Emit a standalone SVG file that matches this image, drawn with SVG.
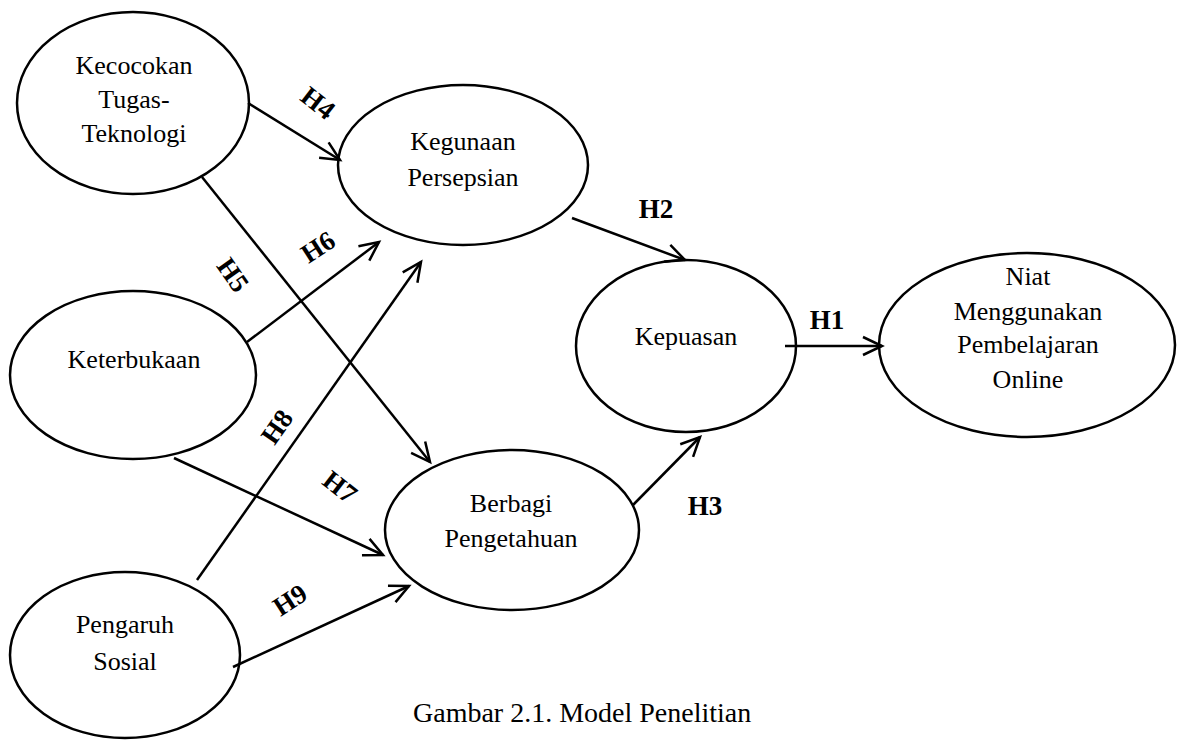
<svg xmlns="http://www.w3.org/2000/svg" width="1179" height="740" viewBox="0 0 1179 740">
<style>
.node ellipse{fill:#fff;stroke:#000;stroke-width:2.5}
.nt{font-family:"Liberation Serif","Times New Roman",serif;font-size:26px;fill:#000;text-anchor:middle}
.conn line{stroke:#000;stroke-width:2.5;fill:none}
.lbl{font-family:"Liberation Serif","Times New Roman",serif;font-size:27px;font-weight:bold;fill:#000;text-anchor:middle}
.cap{font-family:"Liberation Serif","Times New Roman",serif;font-size:28px;fill:#000}
</style>
<defs>
<marker id="arr" markerUnits="userSpaceOnUse" markerWidth="24" markerHeight="24" viewBox="-20 -12 24 24" refX="0" refY="0" orient="auto">
<path d="M-19,-9 L0,0 L-19,9" fill="none" stroke="#000" stroke-width="2.5"/>
</marker>
</defs>
<rect width="1179" height="740" fill="#fff"/>
<g id="n-kecocokan" class="node">
<ellipse cx="133" cy="103" rx="116" ry="91"/>
<text class="nt" x="134" y="74">Kecocokan</text>
<text class="nt" x="134" y="108">Tugas-</text>
<text class="nt" x="134" y="142">Teknologi</text>
</g>
<g id="n-kegunaan" class="node">
<ellipse cx="463" cy="165" rx="125" ry="80"/>
<text class="nt" x="463" y="150">Kegunaan</text>
<text class="nt" x="463" y="186">Persepsian</text>
</g>
<g id="n-keterbukaan" class="node">
<ellipse cx="133" cy="375" rx="123" ry="84"/>
<text class="nt" x="134" y="368">Keterbukaan</text>
</g>
<g id="n-pengaruh" class="node">
<ellipse cx="125" cy="655" rx="115" ry="83"/>
<text class="nt" x="125" y="633">Pengaruh</text>
<text class="nt" x="125" y="670">Sosial</text>
</g>
<g id="n-berbagi" class="node">
<ellipse cx="512" cy="530" rx="127" ry="80"/>
<text class="nt" x="511" y="512">Berbagi</text>
<text class="nt" x="511" y="547">Pengetahuan</text>
</g>
<g id="n-kepuasan" class="node">
<ellipse cx="686" cy="346" rx="110" ry="86"/>
<text class="nt" x="686" y="345">Kepuasan</text>
</g>
<g id="n-niat" class="node">
<ellipse cx="1027" cy="345" rx="148" ry="92"/>
<text class="nt" x="1028" y="285">Niat</text>
<text class="nt" x="1028" y="320">Menggunakan</text>
<text class="nt" x="1028" y="353">Pembelajaran</text>
<text class="nt" x="1028" y="388">Online</text>
</g>
<g id="connectors" class="conn">
<line x1="248" y1="103" x2="340" y2="160" marker-end="url(#arr)"/>
<line x1="202" y1="177" x2="430" y2="462" marker-end="url(#arr)"/>
<line x1="247" y1="342" x2="379" y2="242" marker-end="url(#arr)"/>
<line x1="197" y1="580" x2="421" y2="262" marker-end="url(#arr)"/>
<line x1="174" y1="458" x2="383" y2="555" marker-end="url(#arr)"/>
<line x1="233" y1="667" x2="409" y2="586" marker-end="url(#arr)"/>
<line x1="572" y1="218" x2="685" y2="260" marker-end="url(#arr)"/>
<line x1="633" y1="505" x2="700" y2="437" marker-end="url(#arr)"/>
<line x1="785" y1="346" x2="882" y2="346" marker-end="url(#arr)"/>
</g>
<g id="labels">
<text class="lbl" transform="translate(318,103) rotate(38)" y="9">H4</text>
<text class="lbl" transform="translate(233,275) rotate(55)" y="9">H5</text>
<text class="lbl" transform="translate(318,247) rotate(-33)" y="9">H6</text>
<text class="lbl" transform="translate(340,487) rotate(38)" y="9">H7</text>
<text class="lbl" transform="translate(277,427) rotate(-55)" y="9">H8</text>
<text class="lbl" transform="translate(290,600) rotate(-33)" y="9">H9</text>
<text class="lbl" x="656" y="218">H2</text>
<text class="lbl" x="705" y="515">H3</text>
<text class="lbl" x="827" y="329">H1</text>
</g>
<text class="cap" x="413" y="722">Gambar 2.1. Model Penelitian</text>
</svg>
